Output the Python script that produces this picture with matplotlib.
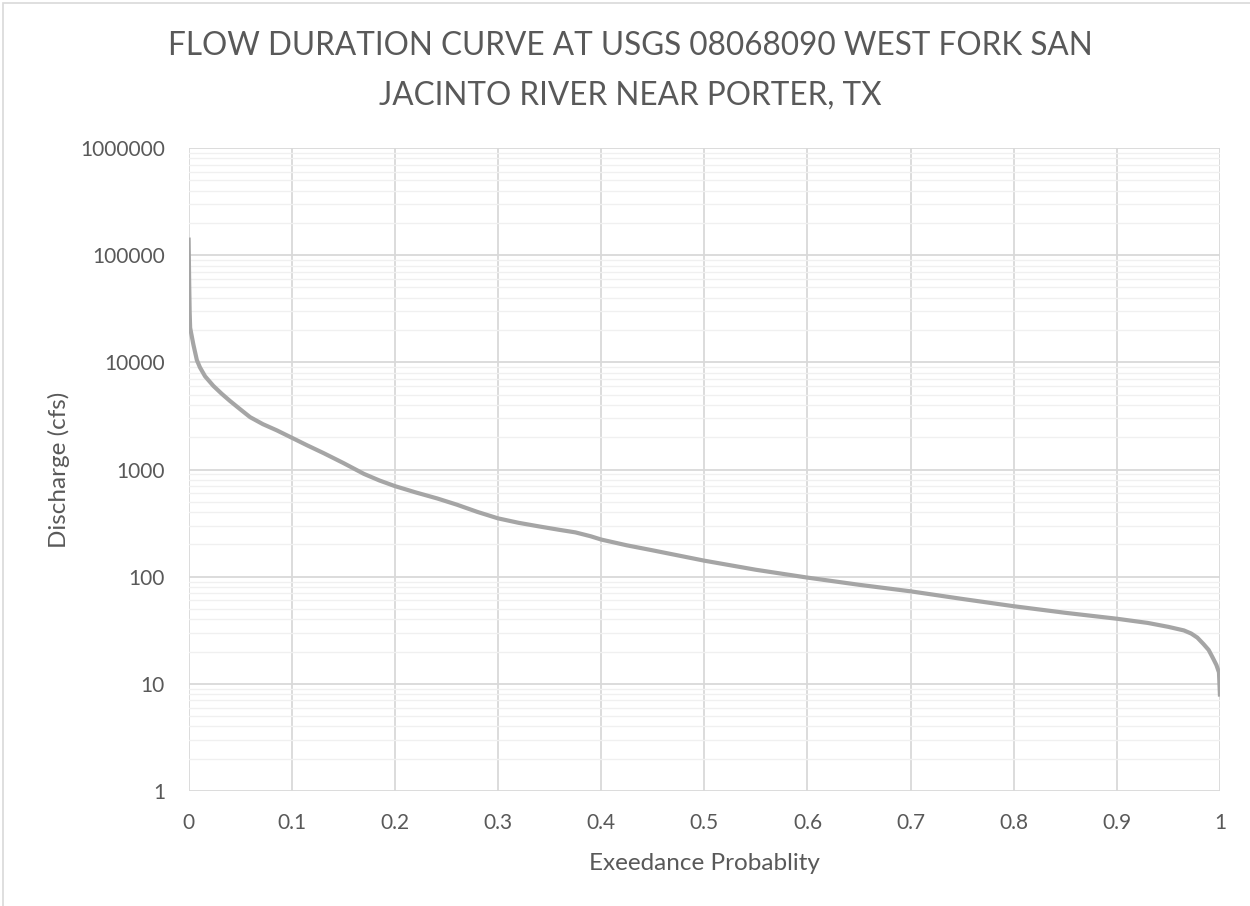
import numpy as np
import matplotlib
matplotlib.use("Agg")
import matplotlib.pyplot as plt
from matplotlib.patches import Rectangle
from matplotlib.ticker import LogLocator, FixedLocator, NullFormatter

# 画像から読み取った流況曲線の値
prob = [0.0, 0.0005, 0.001, 0.0015, 0.0046, 0.008, 0.011, 0.016, 0.024, 0.032,
        0.040, 0.050, 0.0596, 0.072, 0.0855, 0.1, 0.115, 0.131, 0.15, 0.17,
        0.185, 0.2, 0.22, 0.241, 0.26, 0.28, 0.3, 0.32, 0.341, 0.36,
        0.375, 0.39, 0.4, 0.425, 0.45, 0.5, 0.55, 0.6, 0.65, 0.7, 0.75,
        0.8, 0.85, 0.9, 0.93, 0.95, 0.965, 0.972, 0.978, 0.984, 0.989,
        0.993, 0.9965, 0.999, 1.0]
flow = [146000, 60000, 30000, 21000, 14700, 10500, 8970, 7400, 6030, 5100,
        4370, 3650, 3080, 2650, 2320, 1980, 1680, 1420, 1150, 910,
        790, 700, 612, 537, 470, 402, 350, 318, 293, 273,
        259, 238, 222, 196, 176, 141, 116, 98, 84, 73, 62,
        53, 46, 40.5, 37, 34, 31.5, 29.5, 27, 23.5, 20.7,
        17.5, 15, 12.8, 7.6]

x_ticks = [0, 0.1, 0.2, 0.3, 0.4, 0.5, 0.6, 0.7, 0.8, 0.9, 1]
x_labels = ["0", "0.1", "0.2", "0.3", "0.4", "0.5", "0.6", "0.7", "0.8", "0.9", "1"]
y_ticks = [1, 10, 100, 1000, 10000, 100000, 1000000]
y_labels = ["1", "10", "100", "1000", "10000", "100000", "1000000"]

title = "FLOW DURATION CURVE AT USGS 08068090 WEST FORK SAN\nJACINTO RIVER NEAR PORTER, TX"

plt.rcParams['font.family'] = ['Lato', 'DejaVu Sans']
txt = '#595959'

fig = plt.figure(figsize=(12.5, 9.06), dpi=100)
fig.patches.append(Rectangle((3 / 1250, -0.1), 1.2, 1.1 - 3 / 906, transform=fig.transFigure,
                             fill=False, edgecolor='#D9D9D9', linewidth=1.2))

ax = fig.add_axes([188.6 / 1250, 1 - 791 / 906, (1220 - 188.6) / 1250, (791 - 148) / 906])
ax.set_yscale('log')
ax.set_xlim(0, 1)
ax.set_ylim(1, 1000000)

ax.yaxis.set_major_locator(FixedLocator(y_ticks))
ax.yaxis.set_minor_locator(LogLocator(base=10, subs=np.arange(2, 10), numticks=20))
ax.yaxis.set_minor_formatter(NullFormatter())
ax.set_yticklabels(y_labels)
ax.set_xticks(x_ticks)
ax.set_xticklabels(x_labels)

ax.grid(True, which='major', color='#D9D9D9', linewidth=1.3)
ax.grid(True, which='minor', axis='y', color='#F0F0F0', linewidth=1.0)
ax.set_axisbelow(True)
for s in ax.spines.values():
    s.set_visible(False)
ax.tick_params(which='both', length=0, colors=txt, labelsize=15)
ax.tick_params(axis='y', pad=17)
ax.tick_params(axis='x', pad=16)

ax.plot(prob, flow, color='#A5A5A5', linewidth=3.0, solid_capstyle='butt', solid_joinstyle='round')

ax.set_xlabel("Exeedance Probablity", fontsize=17.5, color=txt, labelpad=14)
ax.set_ylabel("Discharge (cfs)", fontsize=17.5, color=txt, labelpad=7)

fig.text(0.504, 0.9215, title, ha='center', va='center', fontsize=22.7, color=txt, linespacing=1.81)

fig.savefig("out.png", dpi=100)
